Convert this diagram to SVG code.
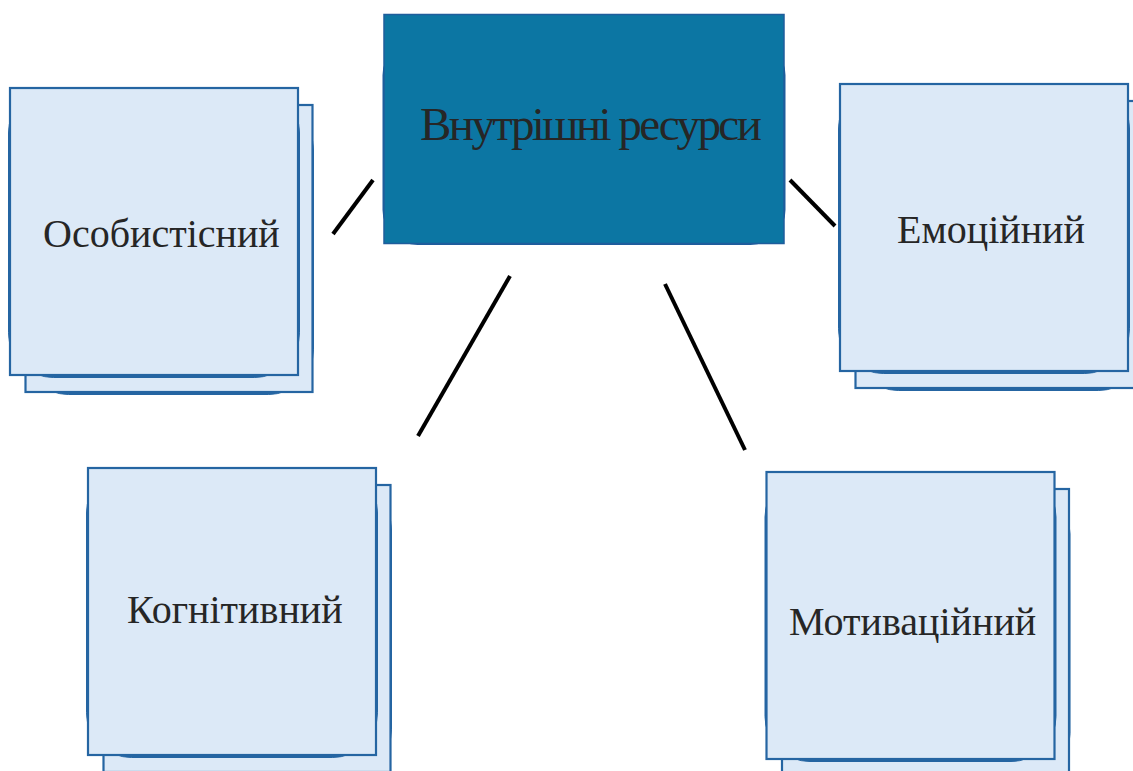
<svg xmlns="http://www.w3.org/2000/svg" width="1133" height="771" viewBox="0 0 1133 771">
<style>
.bg{fill:#fff}
.r{fill:#dce9f7;stroke:#2565a2;stroke-width:2.200}
.u{fill:#2565a2;stroke:#2565a2;stroke-width:1}
.t{font-family:"Liberation Serif","Times New Roman",serif;font-size:40px;fill:#262626}
.c{stroke:#000;stroke-width:4;fill:none}
</style>
<defs>
<g id="card">
<rect class="u" x="13.500" y="17" width="290" height="289.500" rx="45"/>
<rect class="r" x="15.500" y="17" width="287" height="287"/>
<rect class="u" x="-1.500" y="0" width="291" height="289.500" rx="45"/>
<rect class="r" x="0" y="0" width="288" height="287"/>
</g>
</defs>
<rect class="bg" width="1133" height="771"/>
<g id="connectors">
<line class="c" x1="373" y1="180" x2="333" y2="234"/>
<line class="c" x1="790" y1="180" x2="835" y2="226"/>
<line class="c" x1="510" y1="276" x2="418" y2="436"/>
<line class="c" x1="665" y1="284" x2="745" y2="450"/>
</g>
<g id="node-center">
<rect x="382.500" y="40" width="403" height="205" rx="35" fill="#1f5d9c"/>
<rect x="384" y="14.500" width="400" height="229" fill="#0c76a3" stroke="#1f5d9c" stroke-width="1.500"/>
<text class="t" x="420" y="140" style="font-size:47px;letter-spacing:-2.55px">Внутрішні ресурси</text>
</g>
<g id="node-osobystisnyi">
<use href="#card" x="10" y="88"/>
<text class="t" x="43" y="246.500">Особистісний</text>
</g>
<g id="node-emotsiinyi">
<use href="#card" x="840" y="84"/>
<text class="t" x="897" y="243">Емоційний</text>
</g>
<g id="node-kohnityvnyi">
<use href="#card" x="88" y="468"/>
<text class="t" x="127" y="623">Когнітивний</text>
</g>
<g id="node-motyvatsiinyi">
<use href="#card" x="766.500" y="472"/>
<text class="t" x="789" y="635">Мотиваційний</text>
</g>
</svg>
